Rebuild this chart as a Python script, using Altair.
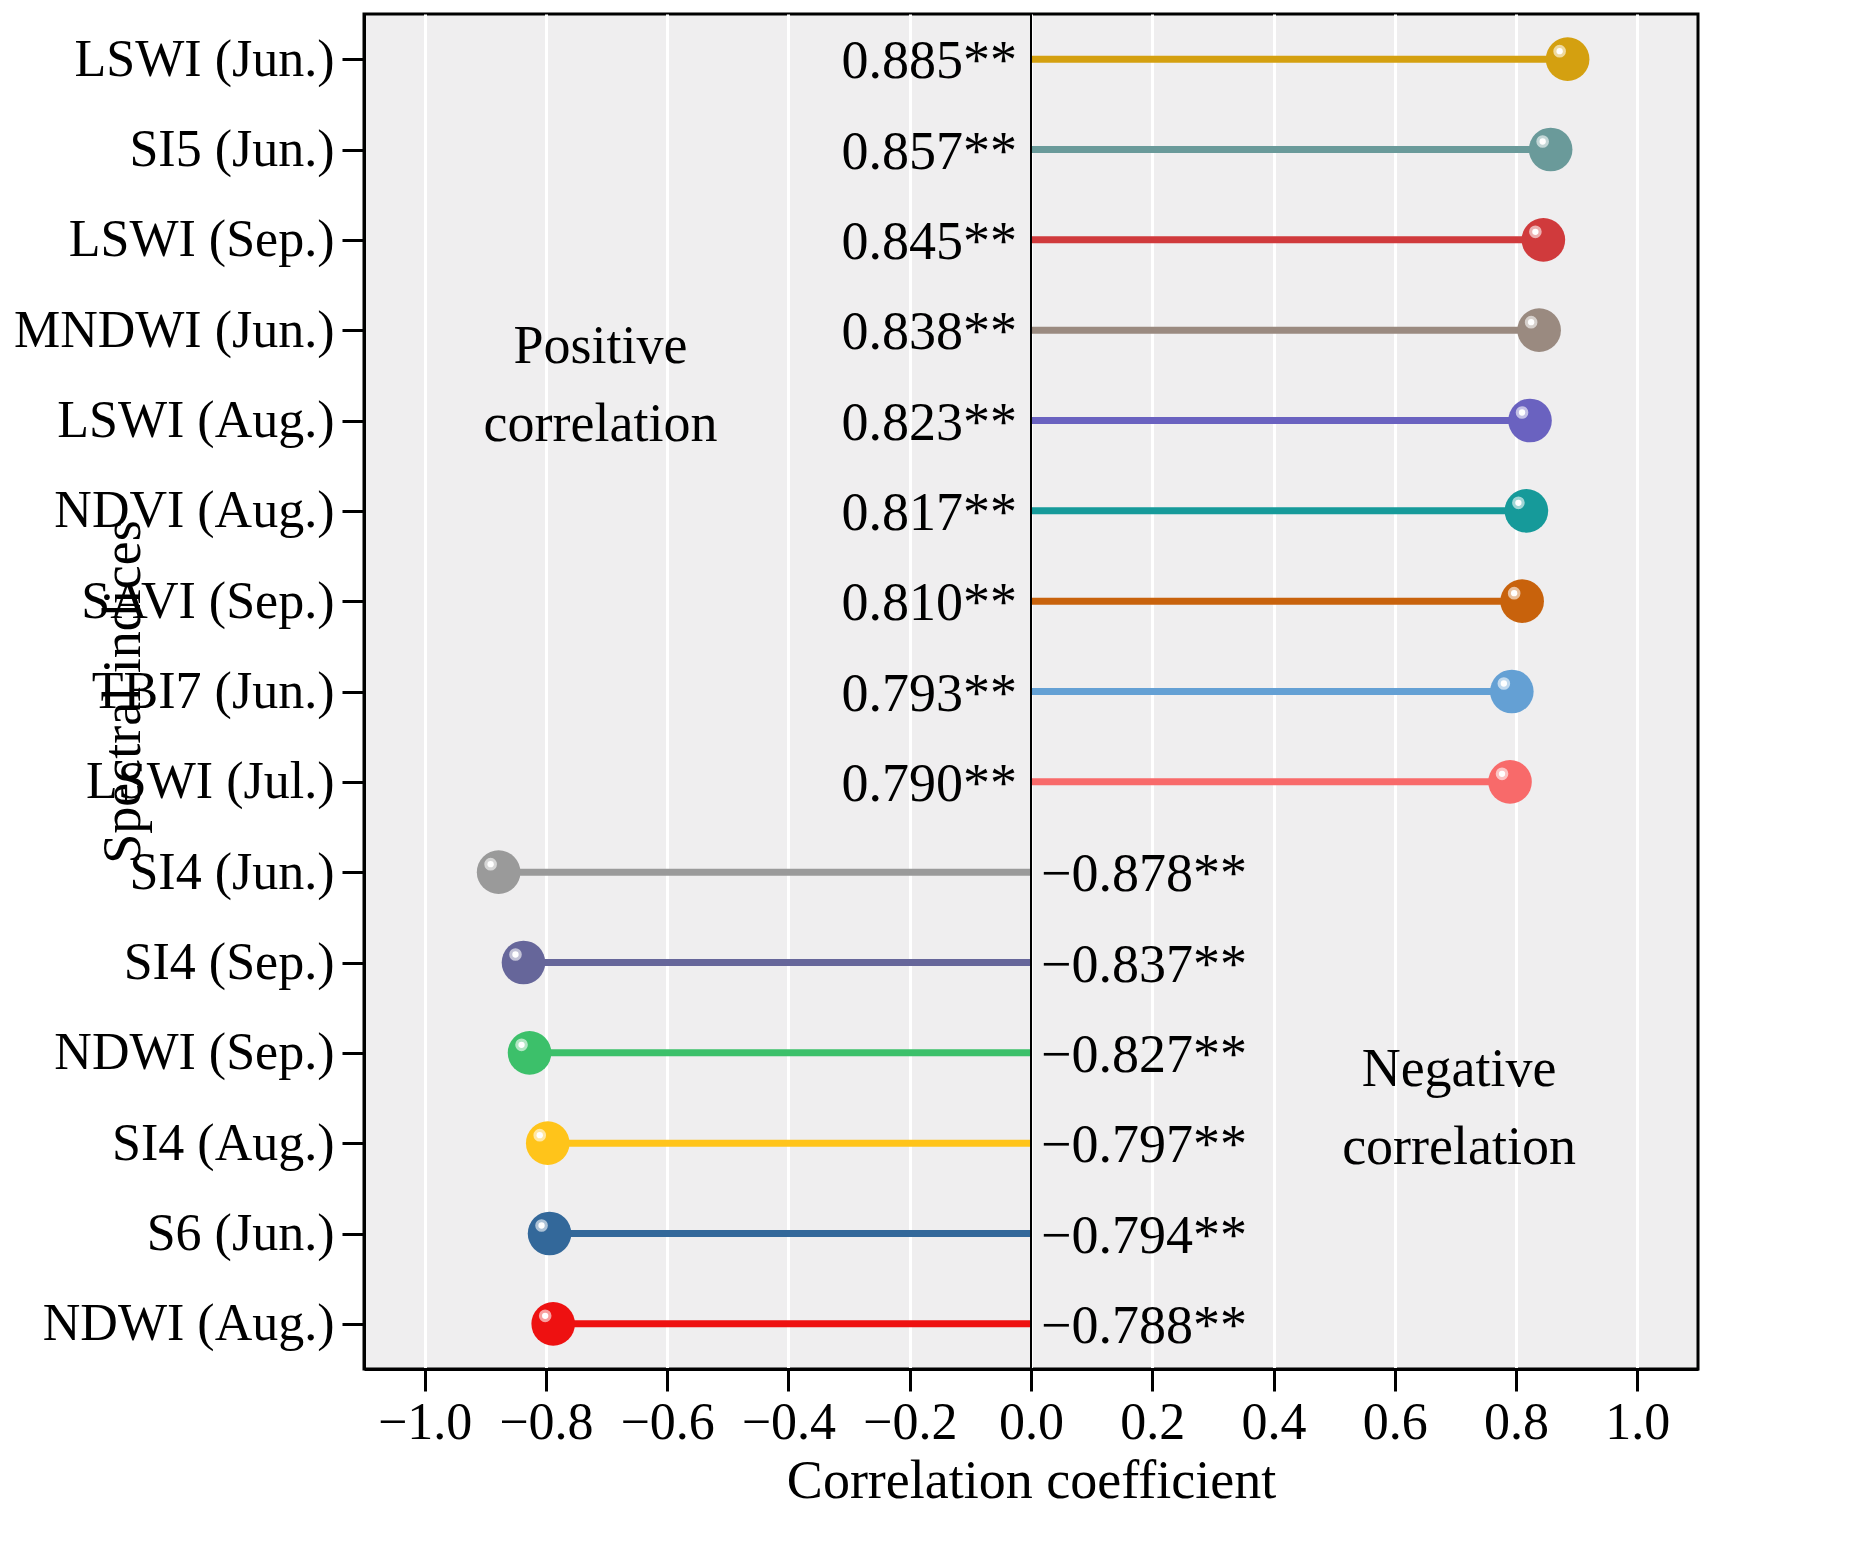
import pandas as pd
import altair as alt

indices = ['LSWI (Jun.)', 'SI5 (Jun.)', 'LSWI (Sep.)', 'MNDWI (Jun.)', 'LSWI (Aug.)',
           'NDVI (Aug.)', 'SAVI (Sep.)', 'TBI7 (Jun.)', 'LSWI (Jul.)', 'SI4 (Jun.)',
           'SI4 (Sep.)', 'NDWI (Sep.)', 'SI4 (Aug.)', 'S6 (Jun.)', 'NDWI (Aug.)']
values = [0.885, 0.857, 0.845, 0.838, 0.823, 0.817, 0.810, 0.793, 0.790,
          -0.878, -0.837, -0.827, -0.797, -0.794, -0.788]
colors = ['#d4a010', '#6a9a9a', '#d03a3c', '#9a8a80', '#6a62c0', '#169a9a', '#c8620c',
          '#64a0d4', '#f86a6a', '#9a9a9a', '#66669a', '#3cc06a', '#ffc41a', '#33689a', '#ee1111']

df = pd.DataFrame({'index': indices, 'r': values, 'color': colors, 'zero': 0.0})
df['label'] = [f'{v:.3f}**'.replace('-', '\u2212') for v in values]
df['side'] = ['pos' if v > 0 else 'neg' for v in values]

font = 'Liberation Serif'
yscale = alt.Scale(type='point', padding=0.5, domain=indices)
y = alt.Y('index:N', title='Spectral indices', scale=yscale,
          axis=alt.Axis(labelFontSize=52, titleFontSize=54, labelFont=font, titleFont=font,
                        labelColor='black', titleColor='black', titleFontWeight='normal',
                        tickSize=22, tickWidth=3, tickColor='black', domainColor='black',
                        domainWidth=3, gridColor='white', gridWidth=3, labelPadding=8,
                        titlePadding=14, labelLimit=0))
x = alt.X('r:Q', title='Correlation coefficient', scale=alt.Scale(domain=[-1.1, 1.1], nice=False),
          axis=alt.Axis(values=[-1.0, -0.8, -0.6, -0.4, -0.2, 0.0, 0.2, 0.4, 0.6, 0.8, 1.0],
                        format='.1f', labelFontSize=52, titleFontSize=54, labelFont=font,
                        titleFont=font, labelColor='black', titleColor='black',
                        titleFontWeight='normal', tickSize=22, tickWidth=3, tickColor='black',
                        domainColor='black', domainWidth=3, gridColor='white', gridWidth=3,
                        labelPadding=6, titlePadding=6))

base = alt.Chart(df)
stems = base.mark_rule(strokeWidth=7).encode(x=x, x2='zero:Q', y=y,
                                             color=alt.Color('color:N', scale=None))
zero_line = alt.Chart(pd.DataFrame({'z': [0.0]})).mark_rule(color='black', strokeWidth=2).encode(x='z:Q')
dots = base.mark_circle(size=1900, opacity=1).encode(x=x, y=y, color=alt.Color('color:N', scale=None))
shine = base.mark_circle(size=160, color='white', opacity=0.6, xOffset=-8, yOffset=-8).encode(x=x, y=y)
shine2 = base.mark_circle(size=40, color='white', opacity=1, xOffset=-8, yOffset=-8).encode(x=x, y=y)

pos_lab = base.transform_filter(alt.datum.side == 'pos').mark_text(
    align='right', baseline='middle', dx=-14, dy=3, fontSize=54, font=font, color='black'
).encode(x='zero:Q', y=y, text='label:N')
neg_lab = base.transform_filter(alt.datum.side == 'neg').mark_text(
    align='left', baseline='middle', dx=10, dy=3, fontSize=54, font=font, color='black'
).encode(x='zero:Q', y=y, text='label:N')

notes = pd.DataFrame({'x': [-0.71, 0.706], 'row': ['MNDWI (Jun.)', 'NDWI (Sep.)'],
                      'text': [['Positive', 'correlation'], ['Negative', 'correlation']]})
note_text = alt.Chart(notes).mark_text(fontSize=54, font=font, color='black', lineHeight=78,
                                       baseline='top', dy=-10).encode(
    x='x:Q', y=alt.Y('row:N', scale=yscale), text='text')

chart = alt.layer(stems, zero_line, dots, shine, shine2, pos_lab, neg_lab, note_text).properties(
    width=1334, height=1355
).configure(background='white').configure_view(fill='#efeeef', stroke='black', strokeWidth=3)

chart.save("out.html", embed_options={"renderer": "svg", "actions": False})
